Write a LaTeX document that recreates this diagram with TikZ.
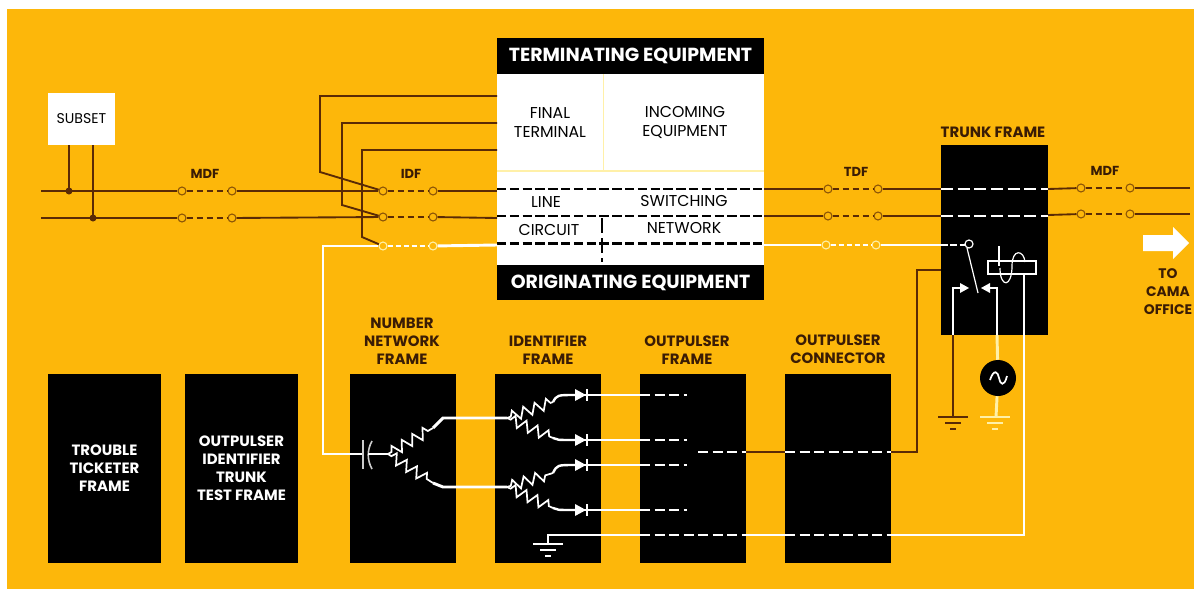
\documentclass[tikz,border=0pt]{standalone}
\usepackage{fontspec}
\setmainfont{Poppins}
\usetikzlibrary{positioning,decorations.pathmorphing}
\definecolor{paneltone}{HTML}{FDB70A}
\definecolor{darkwire}{HTML}{5A2A05}
\definecolor{labelink}{HTML}{3A1C05}
\definecolor{palewire}{HTML}{FFF0A8}
\tikzset{
  framebox/.style={fill=black,minimum height=141.75pt,inner sep=0pt,text=white,align=center,font=\bfseries\fontsize{11.2}{13.5}\selectfont},
  labeltext/.style={text=labelink,align=center,inner sep=0pt,font=\bfseries\fontsize{11.2}{13.5}\selectfont},
  distlabel/.style={text=labelink,inner sep=0pt,font=\bfseries\fontsize{9.8}{12}\selectfont},
  boxtext/.style={text=black,align=center,inner sep=0pt,font=\fontsize{11.8}{14.25}\selectfont},
  bandtext/.style={fill=black,text=white,inner sep=0pt,font=\bfseries\fontsize{14.2}{16}\selectfont},
  terminal/.style={circle,draw=darkwire!70!paneltone,fill=paneltone,line width=0.8pt,minimum size=6pt,inner sep=0pt},
  whiteterminal/.style={circle,draw=palewire,fill=paneltone,line width=0.8pt,minimum size=6pt,inner sep=0pt},
  darkline/.style={draw=darkwire,line width=1.4pt},
  whiteline/.style={draw=white,line width=2.2pt},
  paleline/.style={draw=palewire,line width=2.2pt},
  fineline/.style={draw=white,line width=0.9pt},
  dashbrown/.style={darkline,dash pattern=on 5pt off 2.5pt},
  dashblack/.style={draw=black,line width=1.2pt,dash pattern=on 7pt off 2.6pt},
  dashwhite/.style={draw=white,line width=1.5pt,dash pattern=on 9pt off 3.5pt},
  resistor/.style={fineline,line width=1.3pt,decorate,decoration={zigzag,amplitude=4pt,segment length=9pt,pre length=3pt,post length=2pt}},
  groundsym/.pic={
    \draw[#1,line width=1.1pt] (-15,0) -- (15,0);
    \draw[#1,line width=1.1pt] (-8,-6) -- (8,-6);
    \draw[#1,line width=1.1pt] (-3,-12) -- (3,-12);
  }
}
\begin{document}
\begin{tikzpicture}[x=0.75pt,y=0.75pt,yscale=-1,xscale=1]
\useasboundingbox (0,0) rectangle (1194,589);
%background
\fill[white] (0,0) rectangle (1194,589);
\fill[paneltone] (7,9) rectangle (1194,589);

%Subset
\node[fill=white,minimum width=50.25pt,minimum height=39pt,inner sep=0pt,font=\fontsize{10.6}{12}\selectfont] (subset) at (81.5,119) {SUBSET};
\coordinate (subseta) at (69,145);
\coordinate (subsetb) at (93,145);
\coordinate (lefta) at (41,191);
\coordinate (leftb) at (41,218);
\coordinate (tapa) at (69,191);
\coordinate (tapb) at (93,218);

%Terminals
\node[terminal] (mdfa) at (182,191) {};
\node[terminal] (mdfb) at (232,191) {};
\node[terminal] (mdfc) at (182,218) {};
\node[terminal] (mdfd) at (232,218) {};
\node[terminal] (idfa) at (383,191) {};
\node[terminal] (idfb) at (433,191) {};
\node[terminal] (idfc) at (383,217) {};
\node[terminal] (idfd) at (433,217) {};
\node[whiteterminal] (idfe) at (383,246) {};
\node[whiteterminal] (idff) at (433,246) {};
\node[terminal] (tdfa) at (828,189) {};
\node[terminal] (tdfb) at (878,189) {};
\node[terminal] (tdfc) at (828,216) {};
\node[terminal] (tdfd) at (878,216) {};
\node[whiteterminal] (tdfe) at (826,245) {};
\node[whiteterminal] (tdff) at (876,245) {};
\node[terminal] (mdfe) at (1081,188) {};
\node[terminal] (mdff) at (1130,188) {};
\node[terminal] (mdfg) at (1081,214) {};
\node[terminal] (mdfh) at (1130,214) {};

%Central equipment
\node[fill=white,minimum width=200.25pt,minimum height=143.25pt,inner sep=0pt] (equipment) at (630.5,169.5) {};
\node[bandtext,minimum width=200.25pt,minimum height=27pt] (terminating) at (630.5,55.5) {TERMINATING EQUIPMENT};
\node[bandtext,minimum width=200.25pt,minimum height=26.25pt] (originating) at (630.5,282.5) {ORIGINATING EQUIPMENT};
\coordinate (boxa) at (497,96);
\coordinate (boxb) at (497,123);
\coordinate (boxc) at (497,150);
\coordinate (boxd) at (497,191);
\coordinate (boxe) at (497,218);
\coordinate (boxf) at (497,245);
\coordinate (boxg) at (764,189);
\coordinate (boxh) at (764,216);
\coordinate (boxi) at (764,245);
\coordinate (boxj) at (497,171);
\coordinate (boxk) at (764,171);
\coordinate (boxl) at (603,74);
\coordinate (boxm) at (603,171);
\coordinate (boxn) at (602,218);
\coordinate (boxo) at (602,262);
\draw[draw=palewire,line width=0.9pt] (boxj) -- (boxk);
\draw[draw=palewire,line width=0.5pt] (boxl) -- (boxm);
\draw[dashblack] (497,189) -- (764,189);
\draw[dashblack] (497,216) -- (764,216);
\draw[dashblack,line width=1.6pt] (497,243.5) -- (764,243.5);
\draw[draw=black,line width=0.8pt,dash pattern=on 11pt off 4pt] (boxn) -- (boxo);
\node[boxtext] (finalterm) at (550,122.5) {FINAL\\TERMINAL};
\node[boxtext] (incoming) at (685,122) {INCOMING\\EQUIPMENT};
\node[boxtext] (linetxt) at (546,202) {LINE};
\node[boxtext] (switching) at (684,201) {SWITCHING};
\node[boxtext] (circuit) at (549,229.5) {CIRCUIT};
\node[boxtext] (network) at (684,228) {NETWORK};

%Frames
\node[framebox,minimum width=84.75pt] (ticketer) at (104.5,468.5) {TROUBLE\\TICKETER\\FRAME};
\node[framebox,minimum width=84.75pt] (testframe) at (241.5,468.5) {OUTPULSER\\IDENTIFIER\\TRUNK\\TEST FRAME};
\node[framebox,minimum width=79pt] (numnet) at (403,468) {};
\node[framebox,minimum width=79.5pt] (identifier) at (548,468) {};
\node[framebox,minimum width=79.5pt] (outpulser) at (693,468) {};
\node[framebox,minimum width=79.5pt] (connector) at (838,468) {};
\node[fill=black,minimum width=80.25pt,minimum height=142.5pt,inner sep=0pt] (trunk) at (994.5,240) {};

%Frame labels
\node[labeltext] (numnetlbl) at (402,341) {NUMBER\\NETWORK\\FRAME};
\node[labeltext] (identlbl) at (548,350) {IDENTIFIER\\FRAME};
\node[labeltext] (outplbl) at (687,350) {OUTPULSER\\FRAME};
\node[labeltext] (connlbl) at (838,349) {OUTPULSER\\CONNECTOR};
\node[labeltext] (trunklbl) at (993,132) {TRUNK FRAME};
\node[distlabel] (mdfl) at (205,174) {MDF};
\node[distlabel] (idfl) at (411,174) {IDF};
\node[distlabel] (tdfl) at (856,172) {TDF};
\node[distlabel] (mdfr) at (1105,171) {MDF};
\node[distlabel,align=center,font=\bfseries\fontsize{10.4}{13.5}\selectfont] (camalbl) at (1168,291.5) {TO\\CAMA\\OFFICE};

%Subset wires
\draw[darkline] (lefta) -- (mdfa);
\draw[darkline] (leftb) -- (mdfc);
\draw[darkline] (subseta) -- (tapa);
\draw[darkline] (subsetb) -- (tapb);
\fill[darkwire] (tapa) circle (3.5);
\fill[darkwire] (tapb) circle (3.5);
\draw[dashbrown] (mdfa) -- (mdfb);
\draw[dashbrown] (mdfc) -- (mdfd);
\draw[darkline] (mdfb) -- (idfa);
\draw[darkline] (mdfd) -- (idfc);
\draw[dashbrown] (idfa) -- (idfb);
\draw[dashbrown] (idfc) -- (idfd);
\draw[darkline] (idfb) -- (boxd);
\draw[darkline] (idfd) -- (boxe);

%Final terminal leads
\draw[darkline] (boxa) -- (320,96) -- (320,172) -- (idfa);
\draw[darkline] (boxb) -- (342,123) -- (342,205) -- (idfc);
\draw[darkline] (boxc) -- (362,150) -- (362,237) -- (idfe);

%Right side wires
\draw[darkline] (boxg) -- (tdfa);
\draw[darkline] (boxh) -- (tdfc);
\draw[dashbrown] (tdfa) -- (tdfb);
\draw[dashbrown] (tdfc) -- (tdfd);
\draw[darkline] (tdfb) -- (941,189);
\draw[darkline] (tdfd) -- (941,216);
\draw[dashwhite] (941,189) -- (1048,189);
\draw[dashwhite] (941,216) -- (1048,216);
\draw[darkline] (1048,189) -- (mdfe);
\draw[darkline] (1048,215) -- (mdfg);
\draw[dashbrown] (mdfe) -- (mdff);
\draw[dashbrown] (mdfg) -- (mdfh);
\draw[darkline] (mdff) -- (1190,188);
\draw[darkline] (mdfh) -- (1190,214);

%White ring wire
\coordinate (capin) at (351,454);
\coordinate (capplate) at (363,454);
\draw[whiteline] (idfe) -- (323,246) -- (323,454) -- (capin);
\draw[dashwhite,dash pattern=on 4pt off 2pt,line width=1.4pt] (idfe) -- (idff);
\draw[whiteline] (idff) -- (boxf);
\draw[whiteline] (boxi) -- (tdfe);
\draw[dashwhite,dash pattern=on 4pt off 2pt,line width=1.4pt] (tdfe) -- (tdff);
\draw[whiteline] (tdff) -- (941,245);

%Arrow to CAMA office
\fill[white] (1143,235) -- (1173,235) -- (1173,227) -- (1189,243) -- (1173,259) -- (1173,251) -- (1143,251) -- cycle;

%Number network
\draw[fineline,line width=1.8pt] (capin) -- (capplate);
\draw[draw=white!80!black,line width=1.5pt] (363,440) -- (363,469);
\draw[draw=white!80!black,line width=1.2pt] (372,441) .. controls (367,450) and (367,460) .. (372,469);
\coordinate (forkin) at (388,454);
\coordinate (forka) at (433,428);
\coordinate (forkb) at (433,483);
\coordinate (bendup) at (443,418);
\coordinate (benddn) at (443,487);
\coordinate (forkc) at (507,418);
\coordinate (forkd) at (507,487);
\draw[fineline,line width=1.8pt] (368,454) -- (forkin);
\draw[resistor] (forkin) -- (forka);
\draw[resistor] (forkin) -- (forkb);
\draw[whiteline] (forka) -- (bendup) -- (forkc);
\draw[whiteline] (forkb) -- (benddn) -- (forkd);

%Identifier
\coordinate (resa) at (553,402);
\coordinate (resb) at (553,438);
\coordinate (resc) at (553,473);
\coordinate (resd) at (553,508);
\draw[resistor] (forkc) -- (resa);
\draw[resistor] (forkc) -- (resb);
\draw[resistor] (forkd) -- (resc);
\draw[resistor] (forkd) -- (resd);
\foreach \dname/\ypos/\rname in {a/395/resa,b/440/resb,c/465/resc,d/510/resd}{
  \coordinate (diode\dname) at (575,\ypos);
  \coordinate (dashin\dname) at (640,\ypos);
  \coordinate (dashout\dname) at (687,\ypos);
  \draw[whiteline,line width=1.8pt] (\rname) .. controls (557,\ypos) .. (diode\dname);
  \fill[white] (575,\ypos-6) -- (586,\ypos) -- (575,\ypos+6) -- cycle;
  \draw[fineline,line width=1.3pt] (587,\ypos-6) -- (587,\ypos+6);
  \draw[whiteline] (diode\dname) -- (dashin\dname);
  \draw[dashwhite,dash pattern=on 7.5pt off 3.4pt] (dashin\dname) -- (dashout\dname);
}
\coordinate (gndtop) at (548,535);
\coordinate (gndbar) at (548,544);
\draw[whiteline,line width=1.5pt] (gndbar) -- (gndtop) -- (640,535);
\pic at (gndbar) {groundsym=white};
\draw[dashwhite,dash pattern=on 7.5pt off 3.4pt,line width=2.2pt] (640,535) -- (746,535);
\draw[whiteline] (746,535) -- (785,535);
\draw[dashwhite,dash pattern=on 7.5pt off 3.4pt,line width=2.2pt] (785,535) -- (891,535);
\draw[whiteline] (891,535) -- (1024,535) -- (1024,335);

%Outpulser link
\draw[dashwhite,dash pattern=on 7.5pt off 3.4pt] (698,452) -- (746,452);
\draw[darkline] (746,452) -- (785,452);
\draw[dashwhite,dash pattern=on 7.5pt off 3.4pt] (785,452) -- (891,452);
\draw[darkline] (891,452) -- (917,452) -- (917,270) -- (941,270);

%Relay
\coordinate (relayhinge) at (969,244);
\coordinate (armtip) at (978,293);
\draw[dashwhite,dash pattern=on 5pt off 2pt] (941,245) -- (965,245);
\draw[fineline] (relayhinge) circle (4);
\draw[fineline] (967,248) -- (armtip);
\draw[fineline,line width=1.6pt] (953,335) -- (953,288) -- (963,288);
\fill[white] (960,283) -- (969,288) -- (960,293) -- cycle;
\draw[fineline,line width=1.6pt] (997,335) -- (997,288) -- (987,288);
\fill[white] (990,283) -- (981,288) -- (990,293) -- cycle;
\draw[fineline,line width=1.4pt] (988,261) rectangle (1036,274);
\draw[fineline,line width=1.9pt] (999,246) -- (999,266);
\draw[fineline] (1000,268) .. controls (1000,288) and (1012,288) .. (1012,266) .. controls (1012,248) and (1024,250) .. (1025,262);
\draw[whiteline,line width=1.8pt] (1024,274) -- (1024,335);

%Source and grounds
\node[circle,fill=black,minimum size=27pt,inner sep=0pt] (source) at (998,378) {};
\draw[fineline,line width=1.3pt] (990,380) .. controls (994,368) and (998,372) .. (999,378) .. controls (1000,384) and (1004,388) .. (1007,376);
\coordinate (gnda) at (953,417);
\coordinate (gndb) at (995,417);
\draw[darkline] (953,335) -- (gnda);
\draw[paleline] (997,335) -- (source);
\draw[paleline] (source) -- (996,417);
\pic at (gnda) {groundsym=darkwire};
\pic at (gndb) {groundsym=palewire};
\end{tikzpicture}
\end{document}
